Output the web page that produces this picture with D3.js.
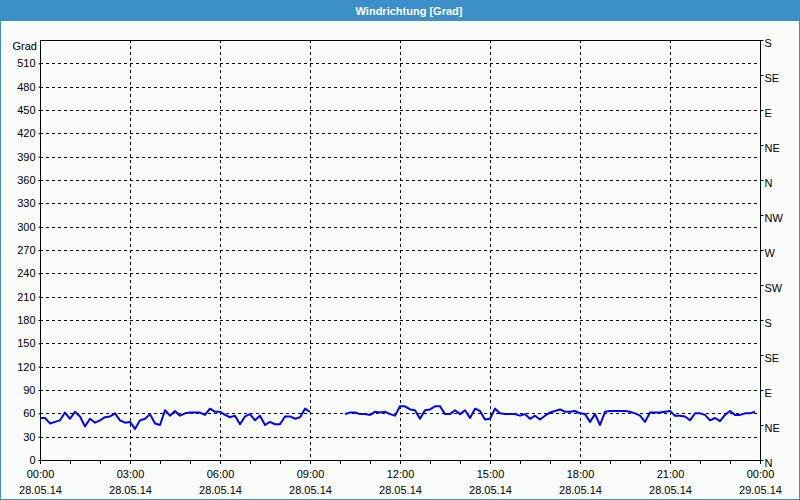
<!DOCTYPE html>
<html>
<head>
<meta charset="utf-8">
<script src="https://cdn.jsdelivr.net/npm/d3@7"></script>
<style>
html,body{margin:0;padding:0;background:#fff;}
svg{display:block;}
text{font-family:"Liberation Sans",Arial,sans-serif;font-size:11px;fill:#000;}
</style>
</head>
<body>
<svg id="chart" width="800" height="500"></svg>
<script>
// ---- data ----
const title = "Windrichtung [Grad]";
const yLabel = "Grad";
const startTime = new Date(2014, 4, 28, 0, 0);
const endTime = new Date(2014, 4, 29, 0, 0);
const stepMinutes = 10;
// wind direction (degrees), one value every 10 minutes from 00:00; null = no data
const seg1 = [54,54,47,49,51,61,53,62,56,43, 53,48,51,55,56,60,51,48,49,40,
              51,53,59,47,45,64,57,63,57,60, 61,61,61,58,66,62,62,58,55,57,
              46,56,59,51,57,45,49,46,46,56, 56,53,55,66,62];
const gap = [null,null,null,null,null,null];
const seg2 = [59,61,61,59,59,58,62,61,62,59, 57,69,69,65,64,53,64,65,69,69,
              59,59,64,59,64,54,66,63,52,53, 66,60,59,59,59,57,59,53,57,52,
              57,61,63,65,62,62,63,60,59,49, 59,45,62,63,63,63,63,62,60,57,
              49,61,61,61,62,63,57,57,56,51, 60,60,58,51,54,50,58,63,58,58,
              60,60,62];
const values = seg1.concat(gap, seg2);
const yTicks = [0,30,60,90,120,150,180,210,240,270,300,330,360,390,420,450,480,510];
const dirTicks = [0,45,90,135,180,225,270,315,360,405,450,495,540];
const dirLabels = ["N","NE","E","SE","S","SW","W","NW","N","NE","E","SE","S"];
const yMax = 540;

// ---- drawing ----
const svg = d3.select("#chart");
const W = 800, H = 500;
const m = {left:40, right:760, top:40, bottom:460};

svg.append("rect").attr("x",0).attr("y",0).attr("width",W).attr("height",H).attr("fill","#3C8FC8");
svg.append("rect").attr("x",1).attr("y",21).attr("width",W-2).attr("height",H-22).attr("fill","#F9FCF9");
svg.append("text").attr("x",409).attr("y",14.5).attr("text-anchor","middle")
  .style("font-weight","bold").style("fill","#fff").style("font-size","11px").text(title);

const x = d3.scaleTime().domain([startTime,endTime]).range([m.left,m.right]);
const y = d3.scaleLinear().domain([0,yMax]).range([m.bottom,m.top]);

const data = values.map((v,i)=>({t:new Date(startTime.getTime()+i*stepMinutes*60000), v}));

const gridG = svg.append("g").attr("shape-rendering","crispEdges");
gridG.selectAll("line.h").data(yTicks.filter(d=>d>0)).enter().append("line")
  .attr("x1",m.left).attr("x2",m.right)
  .attr("y1",d=>Math.round(y(d))+0.5).attr("y2",d=>Math.round(y(d))+0.5)
  .attr("stroke","#000").attr("stroke-dasharray","3,3");
const majorTimes = d3.timeHour.every(3).range(startTime, d3.timeMinute.offset(endTime,1));
gridG.selectAll("line.v").data(majorTimes.filter(d=>+d>+startTime && +d<+endTime)).enter().append("line")
  .attr("y1",m.top).attr("y2",m.bottom)
  .attr("x1",d=>Math.round(x(d))+0.5).attr("x2",d=>Math.round(x(d))+0.5)
  .attr("stroke","#000").attr("stroke-dasharray","3,3");

svg.append("rect").attr("x",m.left+0.5).attr("y",m.top+0.5)
  .attr("width",m.right-m.left).attr("height",m.bottom-m.top)
  .attr("fill","none").attr("stroke","#000").attr("shape-rendering","crispEdges");

const yAxis = d3.axisLeft(y).tickValues(yTicks).tickSize(2).tickPadding(3);
const gl = svg.append("g").attr("transform",`translate(${m.left+0.5},0)`).call(yAxis);
gl.select(".domain").remove();
gl.selectAll("text").style("font-family","Liberation Sans, Arial, sans-serif").style("font-size","11px").attr("fill","#000");
svg.append("text").attr("x",37).attr("y",50).attr("text-anchor","end").text(yLabel);

const yAxisR = d3.axisRight(y).tickValues(dirTicks).tickFormat((d,i)=>dirLabels[i]).tickSize(3).tickPadding(1);
const gr = svg.append("g").attr("transform",`translate(${m.right+0.5},0)`).call(yAxisR);
gr.select(".domain").remove();
gr.selectAll("text").attr("dy","0.55em").style("font-family","Liberation Sans, Arial, sans-serif").style("font-size","11px").attr("fill","#000");

const xAxis = d3.axisBottom(x).ticks(d3.timeHour.every(1)).tickSize(3).tickFormat("");
const gb = svg.append("g").attr("transform",`translate(0,${m.bottom+0.5})`).call(xAxis);
gb.select(".domain").remove();
gb.selectAll("line").attr("shape-rendering","crispEdges");
const fmtT = d3.timeFormat("%H:%M"), fmtD = d3.timeFormat("%d.%m.%y");
const lab = svg.append("g").selectAll("g").data(majorTimes).enter().append("g");
lab.append("text").attr("x",d=>x(d)+0.5).attr("y",478).attr("text-anchor","middle").text(fmtT);
lab.append("text").attr("x",d=>x(d)+0.5).attr("y",494).attr("text-anchor","middle").text(fmtD);

const line = d3.line().defined(d=>d.v!==null).x(d=>x(d.t)).y(d=>y(d.v));
svg.append("path").datum(data).attr("d",line).attr("fill","none")
  .attr("stroke","#0000FF").attr("stroke-width",2).attr("stroke-linejoin","round");
</script>
</body>
</html>
